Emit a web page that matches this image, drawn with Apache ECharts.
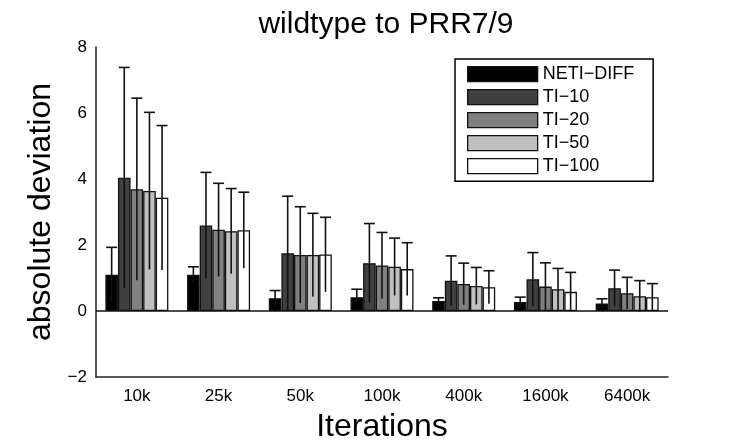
<!DOCTYPE html>
<html>
<head>
<meta charset="utf-8">
<script src="https://cdn.jsdelivr.net/npm/echarts@6/dist/echarts.min.js"></script>
<style>html,body{margin:0;padding:0;background:#fff}#c{width:736px;height:442px}</style>
</head>
<body>
<div id="c"></div>
<script>
var categories = ['10k', '25k', '50k', '100k', '400k', '1600k', '6400k'];
var seriesNames = ['NETI\u2212DIFF', 'TI\u221210', 'TI\u221220', 'TI\u221250', 'TI\u2212100'];
var netiMean = [1.10, 1.10, 0.39, 0.42, 0.30, 0.27, 0.23];
var netiStd  = [0.83, 0.24, 0.23, 0.24, 0.10, 0.15, 0.14];
var ti10Mean = [4.04, 2.59, 1.75, 1.45, 0.92, 0.96, 0.69];
var ti10Std  = [3.34, 1.61, 1.73, 1.20, 0.75, 0.81, 0.55];
var ti20Mean = [3.69, 2.46, 1.70, 1.38, 0.82, 0.74, 0.54];
var ti20Std  = [2.76, 1.41, 1.46, 1.00, 0.63, 0.72, 0.48];
var ti50Mean = [3.64, 2.42, 1.70, 1.34, 0.76, 0.66, 0.45];
var ti50Std  = [2.38, 1.29, 1.26, 0.87, 0.56, 0.63, 0.47];
var ti100Mean = [3.43, 2.45, 1.71, 1.27, 0.72, 0.58, 0.42];
var ti100Std  = [2.19, 1.15, 1.13, 0.80, 0.50, 0.59, 0.41];
var yTicks = [-2, 0, 2, 4, 6, 8];

var means = [netiMean, ti10Mean, ti20Mean, ti50Mean, ti100Mean];
var stds = [netiStd, ti10Std, ti20Std, ti50Std, ti100Std];
var colors = ['#000000', '#404040', '#808080', '#c0c0c0', '#ffffff'];
var BAR_W = 12.6;
var FONT = '"Liberation Sans", Arial, Helvetica, sans-serif';

var chart = echarts.init(document.getElementById('c'), null, {renderer: 'canvas'});

var series = [];
means.forEach(function (m, si) {
  series.push({
    name: seriesNames[si],
    type: 'bar',
    data: m,
    barWidth: BAR_W,
    barGap: '0%',
    itemStyle: {color: colors[si], borderColor: '#111', borderWidth: 1.3},
    emphasis: {disabled: true},
    z: 2,
    markLine: si === 0 ? {
      silent: true, symbol: 'none', label: {show: false},
      lineStyle: {color: '#111', width: 1.5, type: 'solid'},
      data: [{yAxis: 0}]
    } : undefined
  });
});

var errData = [];
means.forEach(function (m, si) {
  m.forEach(function (v, ci) {
    errData.push([ci, v, stds[si][ci], si]);
  });
});

series.push({
  type: 'custom',
  data: errData,
  z: 5,
  silent: true,
  renderItem: function (params, api) {
    var ci = api.value(0), v = api.value(1), s = api.value(2), si = api.value(3);
    var top = api.coord([ci, v + s]);
    var bot = api.coord([ci, v - s]);
    var x = top[0] + (si - 2) * BAR_W;
    var half = 5.5;
    var st = {stroke: '#111', lineWidth: 1.6};
    return {
      type: 'group',
      children: [
        {type: 'line', shape: {x1: x, y1: bot[1], x2: x, y2: top[1]}, style: st},
        {type: 'line', shape: {x1: x - half, y1: top[1], x2: x + half, y2: top[1]}, style: st}
      ]
    };
  }
});

chart.setOption({
  animation: false,
  backgroundColor: '#fff',
  title: {
    text: 'wildtype to PRR7/9',
    left: 381, top: 5, textAlign: 'center',
    textStyle: {fontFamily: FONT, fontSize: 30, fontWeight: 'normal', color: '#000'}
  },
  legend: {
    data: seriesNames,
    orient: 'vertical',
    left: 455, top: 59,
    itemWidth: 70, itemHeight: 15, itemGap: 5,
    itemStyle: {borderColor: '#111', borderWidth: 1.3},
    padding: [6.2, 19, 6, 12],
    borderColor: '#000', borderWidth: 1.5,
    backgroundColor: '#fff',
    selectedMode: false,
    icon: 'rect',
    textStyle: {fontFamily: FONT, fontSize: 18, color: '#000'}
  },
  grid: {left: 96, right: 68, top: 47, bottom: 65, containLabel: false, outerBoundsMode: 'none'},
  xAxis: {
    type: 'category',
    data: categories,
    name: 'Iterations',
    nameLocation: 'middle',
    nameGap: 34,
    nameTextStyle: {fontFamily: FONT, fontSize: 32, color: '#000'},
    axisLine: {onZero: false, lineStyle: {color: '#222', width: 1.5}},
    axisTick: {show: false},
    axisLabel: {fontFamily: FONT, fontSize: 17, color: '#000', margin: 11},
    splitLine: {show: false}
  },
  yAxis: {
    type: 'value',
    min: -2, max: 8, interval: 2,
    name: 'absolute deviation',
    nameLocation: 'middle',
    nameGap: 34,
    nameTextStyle: {fontFamily: FONT, fontSize: 32, color: '#000'},
    axisLine: {show: true, lineStyle: {color: '#222', width: 1.5}},
    axisTick: {show: false},
    splitLine: {show: false},
    axisLabel: {
      fontFamily: FONT, fontSize: 17, color: '#000', margin: 9,
      formatter: function (v) { return yTicks.indexOf(v) >= 0 ? String(v).replace('-', '\u2212') : ''; }
    }
  },
  series: series
});
</script>
</body>
</html>
